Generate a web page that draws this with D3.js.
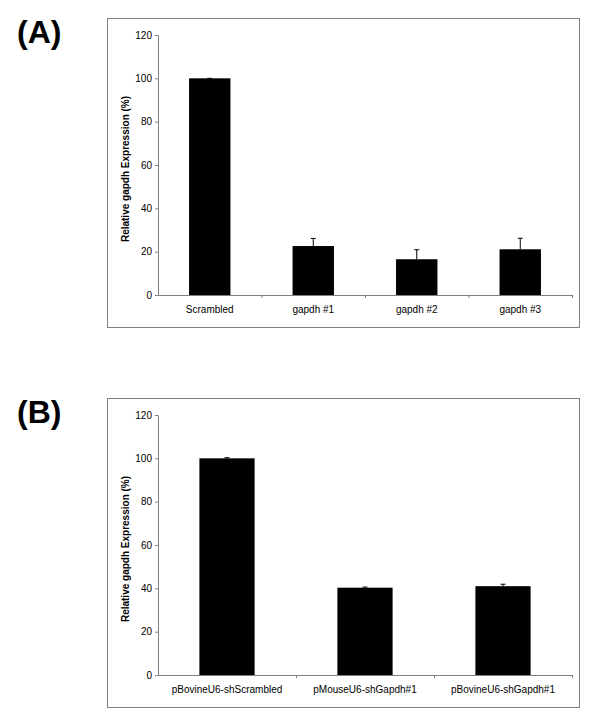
<!DOCTYPE html>
<html>
<head>
<meta charset="utf-8">
<script src="https://cdn.jsdelivr.net/npm/d3@7"></script>
<style>
  body { margin: 0; background: #fff; }
  text { font-family: "Liberation Sans", Arial, sans-serif; }
</style>
</head>
<body>
<svg id="chart" width="600" height="718"></svg>
<script>
// panel A data
const catsA = ["Scrambled", "gapdh #1", "gapdh #2", "gapdh #3"];
const valsA = [100, 22.6, 16.5, 21.1];
const errA = [0, 3.5, 4.4, 5.1];

// panel B data
const catsB = ["pBovineU6-shScrambled", "pMouseU6-shGapdh#1", "pBovineU6-shGapdh#1"];
const valsB = [100, 40.3, 41.0];
const errB = [0.3, 0.3, 0.9];

const yTicks = [0, 20, 40, 60, 80, 100, 120];
const yTitle = "Relative gapdh Expression (%)";

const svg = d3.select("#chart");

function drawPanel(offY, letter, cats, vals, errs) {
  const g = svg.append("g").attr("transform", `translate(0, ${offY})`);

  // outer frame
  g.append("rect")
    .attr("x", 107.5).attr("y", 18.5)
    .attr("width", 472).attr("height", 309)
    .attr("fill", "none").attr("stroke", "#7f7f7f").attr("stroke-width", 1);

  g.append("text")
    .attr("x", 17).attr("y", 43)
    .attr("font-size", 32).attr("font-weight", "bold")
    .text(letter);

  const left = 158, right = 572, top = 35, bottom = 295;

  const y = d3.scaleLinear().domain([0, 120]).range([bottom, top]);
  const x = d3.scaleBand().domain(cats).range([left, right])
    .paddingInner(0.6).paddingOuter(0.3);
  const xb = d3.scaleLinear().domain([0, cats.length]).range([left, right]);

  // bars
  g.selectAll("rect.bar").data(cats).join("rect")
    .attr("class", "bar")
    .attr("x", d => x(d))
    .attr("width", x.bandwidth())
    .attr("y", (d, i) => y(vals[i]))
    .attr("height", (d, i) => y(0) - y(vals[i]))
    .attr("fill", "#000");

  // error bars (upper only)
  const eb = g.selectAll("g.err").data(cats).join("g").attr("class", "err");
  eb.append("line")
    .attr("x1", d => x(d) + x.bandwidth() / 2)
    .attr("x2", d => x(d) + x.bandwidth() / 2)
    .attr("y1", (d, i) => y(vals[i]))
    .attr("y2", (d, i) => y(vals[i] + errs[i]))
    .attr("stroke", "#000");
  eb.append("line")
    .attr("x1", d => x(d) + x.bandwidth() / 2 - 2.5)
    .attr("x2", d => x(d) + x.bandwidth() / 2 + 2.5)
    .attr("y1", (d, i) => y(vals[i] + errs[i]))
    .attr("y2", (d, i) => y(vals[i] + errs[i]))
    .attr("stroke", "#000");

  // y axis
  const yAxis = g.append("g")
    .attr("transform", `translate(${left}, 0)`)
    .call(d3.axisLeft(y).tickValues(yTicks).tickSize(3).tickPadding(3).tickSizeOuter(0));
  yAxis.select(".domain").attr("stroke", "#7f7f7f");
  yAxis.selectAll(".tick line").attr("stroke", "#7f7f7f");
  yAxis.selectAll("text").attr("font-size", 10).attr("font-family", "Liberation Sans, Arial, sans-serif").attr("fill", "#000");

  // x axis boundary ticks
  const xAxis = g.append("g")
    .attr("transform", `translate(0, ${bottom})`)
    .call(d3.axisBottom(xb).tickValues(d3.range(1, cats.length + 1)).tickSize(3).tickSizeOuter(0).tickFormat(""));
  xAxis.select(".domain").attr("stroke", "#7f7f7f");
  xAxis.selectAll(".tick line").attr("stroke", "#7f7f7f");

  // category labels
  const xLab = g.append("g")
    .attr("transform", `translate(0, ${bottom})`)
    .call(d3.axisBottom(x).tickSize(0).tickPadding(11));
  xLab.select(".domain").remove();
  xLab.selectAll("text").attr("font-size", 10).attr("font-family", "Liberation Sans, Arial, sans-serif").attr("fill", "#000");

  // y title
  g.append("text")
    .attr("transform", `translate(128.5, ${(top + bottom) / 2 + 4}) rotate(-90)`)
    .attr("text-anchor", "middle")
    .attr("font-size", 10).attr("font-weight", "bold")
    .text(yTitle);
}

drawPanel(0, "(A)", catsA, valsA, errA);
drawPanel(380, "(B)", catsB, valsB, errB);
</script>
</body>
</html>
